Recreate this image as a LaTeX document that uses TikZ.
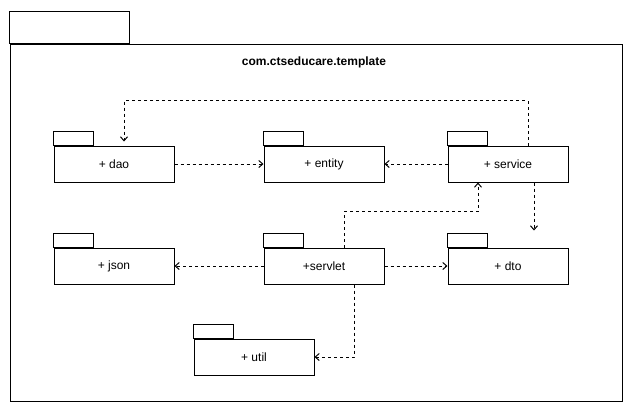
\documentclass[tikz,border=0pt]{standalone}
\usepackage{fontspec}
\setmainfont{Liberation Sans}
\usetikzlibrary{arrows.meta,calc}
\begin{document}
\begin{tikzpicture}[x=1pt,y=-1pt,
  pkgbody/.style={draw,line width=1pt,minimum width=120pt,minimum height=36pt,
    inner sep=0pt,font=\fontsize{12pt}{14pt}\selectfont},
  dep/.style={draw,line width=1pt,dash pattern=on 3pt off 3pt,
    -{Straight Barb[length=4pt,width=7pt,line width=1pt]}},
  frame/.style={draw,line width=1pt}]
\useasboundingbox (0,0) rectangle (633,413);
% enclosing package
\node[frame,minimum width=612pt,minimum height=357pt,inner sep=0pt] (outer) at (316,222.5) {};
\draw[frame] (outer.north west) rectangle ++(120,-32);
\node[font=\bfseries\fontsize{12pt}{14pt}\selectfont] (title) at (314,62.5) {com.ctseducare.template};
% member packages
\node[pkgbody] (dao) at (114,164) {+ dao};
\node[pkgbody] (entity) at (324,164) {+ entity};
\node[pkgbody] (service) at (508,164) {+ service};
\node[pkgbody] (json) at (114,266) {+ json};
\node[pkgbody] (servlet) at (324,266) {+servlet};
\node[pkgbody] (dto) at (508,266) {+ dto};
\node[pkgbody] (util) at (254,357) {+ util};
\foreach \p in {dao,entity,service,json,servlet,dto,util}
  \draw[frame] (\p.north west) rectangle ++(40,-14);
% dependencies
\coordinate (daoin) at ($(dao.north)+(10,-4)$);
\coordinate (dtoin) at ($(dto.north)+(26,-17)$);
\draw[dep] ([xshift=20pt]service.north) -- ++(0,-45) -| (daoin);
\draw[dep] (dao) -- (entity);
\draw[dep] (service) -- (entity);
\draw[dep] ([xshift=26pt]service.south) -- (dtoin);
\draw[dep] ([xshift=20pt]servlet.north) -- ++(0,-36) -| ([xshift=-30pt]service.south);
\draw[dep] (servlet) -- (json);
\draw[dep] (servlet) -- (dto);
\draw[dep] ([xshift=30pt]servlet.south) |- (util.east);
\end{tikzpicture}
\end{document}
